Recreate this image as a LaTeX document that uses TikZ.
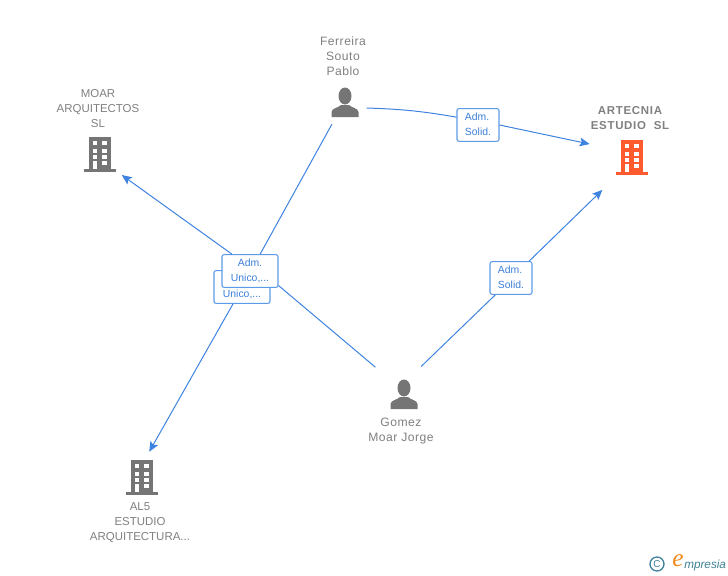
\documentclass[tikz,border=0pt]{standalone}
\usepackage{fontspec}
\setmainfont{Liberation Sans}
\newfontfamily\logofont{Liberation Serif}
\usetikzlibrary{positioning,arrows.meta}
\definecolor{linkblue}{HTML}{3F83E0}
\definecolor{tagblue}{HTML}{5C9BE8}
\definecolor{tagtext}{HTML}{3D7FD9}
\definecolor{icongrey}{HTML}{757575}
\definecolor{captiongrey}{HTML}{808080}
\definecolor{firmorange}{HTML}{FF5B2E}
\definecolor{logoteal}{HTML}{3F8196}
\definecolor{logoorange}{HTML}{F08A1D}

\tikzset{
  buildingicon/.pic={
    \fill (-11,-17) rectangle (11,15);
    \fill (-16,15) rectangle (16,18);
    \foreach \wy in {-13,-5,1} {
      \fill [white] (-7,\wy) rectangle (-3,\wy+4);
      \fill [white] (2,\wy) rectangle (7,\wy+4);
    }
    \fill [white] (-7,7) rectangle (-3,15);
    \fill [white] (2,7) rectangle (7,11);
  },
  personicon/.pic={
    \fill (0,-7) ellipse (6.5 and 8.5);
    \fill (-13.5,14) -- (-13.5,9) .. controls (-13,5) and (-7,5) .. (-4,2) -- (4,2)
      .. controls (7,5) and (13,5) .. (13.5,9) -- (13.5,14) -- cycle;
  }
}

\begin{document}
\begin{tikzpicture} [x=0.75pt, y=-0.75pt,
  icon/.style={circle, inner sep=0pt, minimum size=#1*0.75pt},
  caption/.style={text=captiongrey, font=\fontsize{8.6}{11.25}\selectfont, align=center, inner sep=0pt},
  personname/.style={caption, font=\fontsize{9.1}{11.25}\selectfont\addfontfeature{LetterSpace=4}},
  tag/.style={rectangle, draw=tagblue, fill=white, rounded corners=1.5pt, line width=0.8pt, text=tagtext,
    font=\fontsize{7.8}{11.25}\selectfont, minimum height=24.5pt, inner sep=0pt},
  solidtag/.style={tag, align=left, minimum width=31.5pt},
  unicotag/.style={tag, align=center, minimum width=42pt},
  link/.style={draw=linkblue, line width=0.75pt},
  arrow/.style={link, -{Stealth[length=7.5pt, width=6.5pt, inset=1.5pt]}}]
  \useasboundingbox (0,0) rectangle (728,575);
  %% Companies and people
  \node [icon=60] (moar) at (100,154) {};
  \node [icon=52] (al5) at (142,477) {};
  \node [icon=88] (artecnia) at (632,157) {};
  \node [icon=44] (ferreira) at (345,103) {};
  \node [icon=66] (gomez) at (404,395) {};
  \pic [icongrey] at (moar) {buildingicon};
  \pic [icongrey] at (al5) {buildingicon};
  \pic [firmorange] at (artecnia) {buildingicon};
  \pic [icongrey] at (ferreira) {personicon};
  \pic [icongrey] at (gomez) {personicon};
  % Captions
  \node [caption] (moarname) at (98,109) {MOAR\\ARQUITECTOS\\SL};
  \node [caption] (al5name) at (140,523) {AL5\\ESTUDIO\\ARQUITECTURA...};
  \node [caption, font=\fontsize{8.6}{11.25}\selectfont\bfseries\addfontfeature{LetterSpace=6}] (artecnianame) at (630,118) {ARTECNIA\\ESTUDIO\ \ SL};
  \node [personname] (ferreiraname) at (343,56) {Ferreira\\Souto\\Pablo};
  \node [personname] (gomezname) at (401,431) {Gomez\\Moar Jorge};
  %% Role boxes
  \node [unicotag] (tagback) at (242,287) {\phantom{Adm.}\strut\\Unico,...\strut};
  \node [solidtag] (tagsolidtop) at (478,125) {Adm.\strut\\Solid.\strut};
  \node [solidtag] (tagsolidlow) at (511,278) {Adm.\strut\\Solid.\strut};
  % Draw edges
  \draw [link, shorten <=2pt] (ferreira.-122) -- (tagback);
  \draw [arrow] (tagback.-118) -- (al5.74);
  \node [unicotag] (tagfront) at (250,271) {Adm.\strut\\Unico,...\strut};
  \draw [link, shorten <=5pt] (gomez.135) -- (tagfront.-27);
  \draw [arrow] (tagfront.137) -- (moar.-44);
  \draw [link] (ferreira.-13) to [bend left=4] (tagsolidtop.160);
  \draw [arrow] (tagsolidtop.east) -- (artecnia.163);
  \draw [link] (gomez.59) -- (tagsolidlow.-133);
  \draw [arrow] (tagsolidlow.43) -- (artecnia.228);
  %% Logo
  \node [circle, draw=logoteal, line width=1pt, inner sep=0pt, minimum size=10.5pt, text=logoteal, font=\fontsize{7.5}{8}\selectfont] (logoc) at (657,564) {C};
  \node [text=logoorange, font=\logofont\itshape\fontsize{19}{19}\selectfont, inner sep=0pt] (logoe) at (678,561) {e};
  \node [text=logoteal, font=\itshape\fontsize{8.8}{10}\selectfont, inner sep=0pt, anchor=base west] (logoname) at (684,568) {mpresia};
\end{tikzpicture}
\end{document}
